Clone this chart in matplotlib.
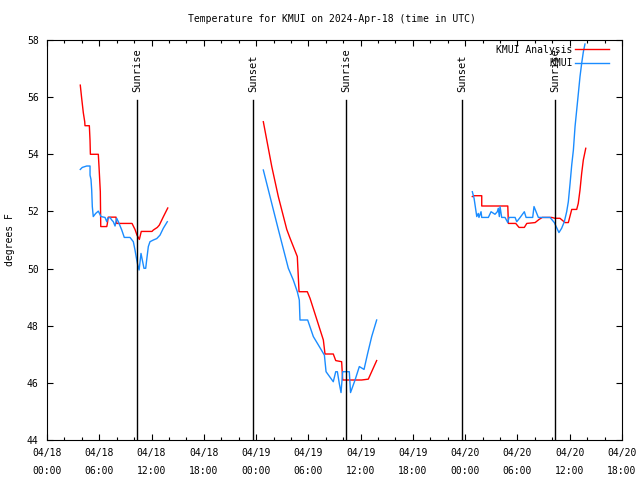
import matplotlib
matplotlib.use("Agg")
import numpy as np
import matplotlib.pyplot as plt
from matplotlib.lines import Line2D

# hours since 04/18 00:00 UTC
anl_t1 = [3.82, 3.98, 4.17, 4.33, 4.36, 4.86, 4.94, 4.98, 5.89, 5.97, 6.12, 6.17, 6.86, 6.92, 7.03,
          7.92, 8.0, 9.76, 10.10, 10.33, 10.60, 10.82, 12.05, 12.21, 12.66, 12.89, 13.35, 13.86]
anl_v1 = [56.42, 55.96, 55.45, 55.14, 55.0, 55.0, 54.48, 54.0, 54.0, 53.57, 52.69, 51.47, 51.47, 51.56, 51.8,
          51.8, 51.58, 51.58, 51.37, 51.17, 51.02, 51.3, 51.3, 51.35, 51.44, 51.52, 51.81, 52.12]
anl_t2 = [24.83, 25.80, 26.55, 27.52, 27.90, 28.73, 28.93, 29.88, 30.19, 31.72, 31.91, 32.86, 33.14,
          33.82, 33.94, 36.12, 36.88, 37.84]
anl_v2 = [55.14, 53.57, 52.52, 51.37, 51.06, 50.42, 49.19, 49.19, 48.96, 47.50, 47.01, 47.01, 46.78,
          46.74, 46.10, 46.10, 46.13, 46.78]
anl_t3 = [48.82, 49.05, 49.90, 49.90, 51.35, 52.89, 52.96, 53.80, 54.18, 54.79, 55.07, 56.03, 56.48,
          56.85, 57.93, 58.31, 58.88, 59.46, 59.84, 60.23, 60.80, 60.98, 61.18, 61.37, 61.56, 61.84]
anl_v3 = [52.52, 52.55, 52.55, 52.19, 52.19, 52.19, 51.58, 51.58, 51.44, 51.44, 51.58, 51.61, 51.72,
          51.79, 51.79, 51.76, 51.76, 51.61, 51.61, 52.07, 52.07, 52.28, 52.75, 53.33, 53.80, 54.21]

obs_t1 = [3.82, 4.05, 4.56, 4.94, 4.94, 5.05, 5.13, 5.20, 5.31, 5.59, 5.89, 6.20, 6.66, 6.86, 6.97,
          7.23, 7.43, 7.61, 7.81, 8.0, 8.19, 8.58, 8.87, 9.53, 9.91, 10.10, 10.30, 10.42, 10.57, 10.79,
          10.94, 11.13, 11.33, 11.44, 11.63, 11.82, 12.21, 12.60, 12.97, 13.35, 13.81]
obs_v1 = [53.47, 53.54, 53.59, 53.59, 53.27, 53.12, 52.75, 52.17, 51.82, 51.93, 52.01, 51.82, 51.79,
          51.64, 51.76, 51.79, 51.70, 51.64, 51.49, 51.76, 51.64, 51.35, 51.09, 51.09, 50.94, 50.65,
          50.30, 50.12, 49.95, 50.53, 50.30, 50.01, 50.01, 50.30, 50.77, 50.94, 51.0, 51.05, 51.17,
          51.41, 51.64]
obs_t2 = [24.83, 26.55, 27.70, 28.27, 28.73, 28.96, 29.04, 29.92, 30.57, 31.14, 31.84, 32.03, 32.86,
          33.14, 33.33, 33.56, 33.75, 33.94, 34.70, 34.84, 35.36, 35.85, 36.39, 36.79, 37.27, 37.84]
obs_v2 = [53.45, 51.37, 50.01, 49.60, 49.19, 48.90, 48.20, 48.20, 47.62, 47.33, 46.97, 46.39, 46.04,
          46.39, 46.39, 45.96, 45.66, 46.39, 46.39, 45.66, 46.10, 46.57, 46.47, 47.01, 47.62, 48.20]
obs_t3 = [48.82, 49.02, 49.33, 49.50, 49.58, 49.82, 49.90, 50.66, 50.97, 51.42, 51.69, 51.80, 51.92,
          52.0, 52.19, 52.57, 52.89, 53.03, 53.73, 53.92, 54.31, 54.79, 54.99, 55.75, 55.90, 56.40,
          57.74, 58.23, 58.76, 59.07, 59.38, 59.65, 59.84, 60.04, 60.23, 60.42, 60.61, 60.80, 60.99,
          61.18, 61.37, 61.56, 61.75]
obs_v3 = [52.69, 52.46, 51.82, 51.93, 51.79, 51.99, 51.79, 51.79, 51.99, 51.90, 51.99, 52.11, 51.82,
          52.17, 51.79, 51.79, 51.61, 51.79, 51.79, 51.64, 51.79, 51.99, 51.79, 51.79, 52.17, 51.79,
          51.79, 51.61, 51.26, 51.41, 51.64, 51.99, 52.34, 52.98, 53.63, 54.15, 54.97, 55.55, 56.13,
          56.72, 57.18, 57.58, 57.86]

sun_t = [10.35, 23.68, 34.33, 47.65, 58.3]
sun_lbl = ["Sunrise", "Sunset", "Sunrise", "Sunset", "Sunrise"]

tick_h = np.arange(0, 67, 6)
tick_lbl = ["04/18\n00:00", "04/18\n06:00", "04/18\n12:00", "04/18\n18:00",
            "04/19\n00:00", "04/19\n06:00", "04/19\n12:00", "04/19\n18:00",
            "04/20\n00:00", "04/20\n06:00", "04/20\n12:00", "04/20\n18:00"]

RED = "#ff0000"
BLUE = "#1a8cff"

plt.rcParams["font.family"] = "DejaVu Sans Mono"
plt.rcParams["font.size"] = 7

fig = plt.figure(figsize=(6.4, 4.8), dpi=100)
ax = fig.add_axes([47 / 640, 40 / 480, 575 / 640, 400 / 480])

for t, v in [(anl_t1, anl_v1), (anl_t2, anl_v2), (anl_t3, anl_v3)]:
    ax.plot(t, v, color=RED, lw=1)
for t, v in [(obs_t1, obs_v1), (obs_t2, obs_v2), (obs_t3, obs_v3)]:
    ax.plot(t, v, color=BLUE, lw=1)

for t, s in zip(sun_t, sun_lbl):
    ax.plot([t, t], [44, 55.9], color="black", lw=1)
    ax.text(t, 56.18, s, rotation=90, ha="center", va="bottom", fontsize=7.5)

ax.set_xlim(0, 66)
ax.set_ylim(44, 58)
ax.set_xticks(tick_h)
ax.set_xticklabels(tick_lbl, linespacing=2.0)
ax.set_xticks(np.arange(0, 67, 2), minor=True)
ax.set_yticks(np.arange(44, 59, 2))
ax.tick_params(which="both", direction="in", top=True, right=True, width=0.8)
ax.tick_params(which="major", length=4.5, pad=6)
ax.tick_params(which="minor", length=2.5)
for sp in ax.spines.values():
    sp.set_linewidth(0.8)

fig.text(10 / 640, 0.5, "degrees F", rotation=90, ha="center", va="center", fontsize=7)

handles = [Line2D([], [], color=RED, lw=1), Line2D([], [], color=BLUE, lw=1)]
ax.legend(handles, ["KMUI Analysis", "KMUI"], loc="upper right", frameon=False,
          markerfirst=False, handlelength=3.4, handletextpad=0.3, labelspacing=0.35,
          borderaxespad=0.1, bbox_to_anchor=(0.985, 1.0), fontsize=7)

fig.text(332 / 640, 1 - 19 / 480, "Temperature for KMUI on 2024-Apr-18 (time in UTC)",
         ha="center", va="center", fontsize=7)

fig.savefig("out.png", dpi=100)
